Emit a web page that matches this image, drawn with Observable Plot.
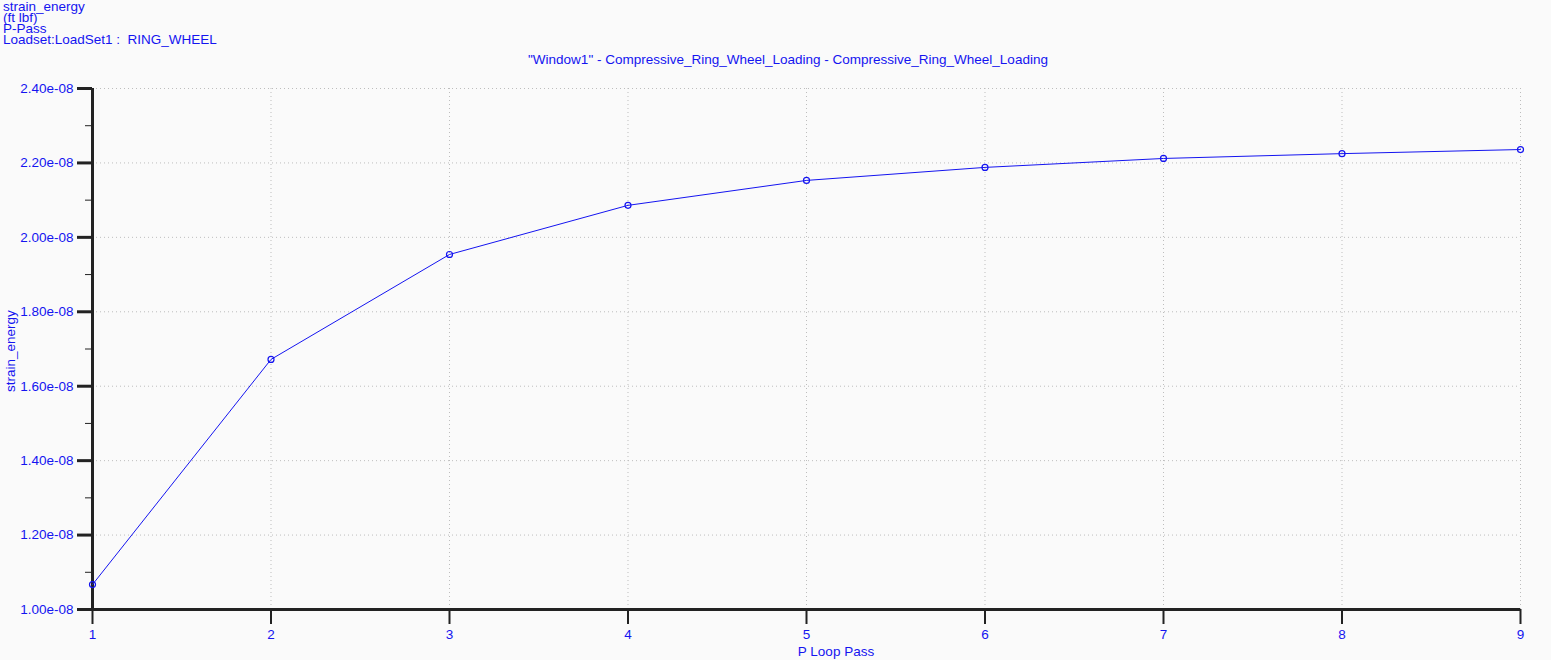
<!DOCTYPE html>
<html>
<head>
<meta charset="utf-8">
<script src="https://cdn.jsdelivr.net/npm/d3@7"></script>
<script src="https://cdn.jsdelivr.net/npm/@observablehq/plot@0.6"></script>
<style>
  html, body { margin: 0; padding: 0; background: #fafafa; }
  #wrap { position: relative; width: 1551px; height: 660px; overflow: hidden; font-family: "Liberation Sans", Arial, sans-serif; color: #1414f0; }
  .hdr { position: absolute; left: 3px; font-size: 13.5px; line-height: 11px; height: 11px; white-space: pre; }
  #title { position: absolute; left: 0; width: 1576px; top: 53px; text-align: center; font-size: 13.5px; line-height: 13px; }
  #xlab { position: absolute; left: 0; width: 1672px; top: 645px; text-align: center; font-size: 13.5px; line-height: 13px; }
</style>
</head>
<body>
<div id="wrap">
  <div id="chart"></div>
  <div class="hdr" style="top:1px">strain_energy</div>
  <div class="hdr" style="top:12px">(ft lbf)</div>
  <div class="hdr" style="top:23px">P-Pass</div>
  <div class="hdr" style="top:34px">Loadset:LoadSet1 :  RING_WHEEL</div>
  <div id="title">"Window1" - Compressive_Ring_Wheel_Loading - Compressive_Ring_Wheel_Loading</div>
  <div id="xlab">P Loop Pass</div>
</div>
<script>
const passes = [1, 2, 3, 4, 5, 6, 7, 8, 9];
const strainEnergy = [1.067e-8, 1.672e-8, 1.954e-8, 2.086e-8, 2.153e-8, 2.188e-8, 2.212e-8, 2.225e-8, 2.236e-8];
const yMajorTicks = [1.0e-8, 1.2e-8, 1.4e-8, 1.6e-8, 1.8e-8, 2.0e-8, 2.2e-8, 2.4e-8];
const yMinorTicks = [1.1e-8, 1.3e-8, 1.5e-8, 1.7e-8, 1.9e-8, 2.1e-8, 2.3e-8];
const xTicks = [1, 2, 3, 4, 5, 6, 7, 8, 9];

const data = passes.map((p, i) => ({pass: p, value: strainEnergy[i]}));
const blue = "#1414f0";
const axisColor = "#222";
const fmt = d => d3.format(".2e")(d).replace(/e-(\d)$/, "e-0$1");

const plot = Plot.plot({
  width: 1551,
  height: 660,
  marginLeft: 92,
  marginRight: 31,
  marginTop: 88,
  marginBottom: 51,
  style: {background: "transparent", fontFamily: "Liberation Sans, Arial, sans-serif", fontSize: "13.5px", overflow: "visible"},
  x: {domain: [1, 9]},
  y: {domain: [1.0e-8, 2.4e-8]},
  marks: [
    Plot.gridY(yMajorTicks.slice(1), {stroke: "#bdbdbd", strokeOpacity: 1, strokeDasharray: "1,3"}),
    Plot.gridX(xTicks.slice(1), {stroke: "#bdbdbd", strokeOpacity: 1, strokeDasharray: "1,3"}),
    Plot.axisY({ticks: yMinorTicks, tickSize: 7, tickFormat: null, stroke: axisColor, text: null, label: null}),
    Plot.axisY({ticks: yMajorTicks, tickSize: 15, tickPadding: 4, tickFormat: fmt, stroke: axisColor, strokeWidth: 3, fill: blue, label: null}),
    Plot.axisX({ticks: xTicks, tickSize: 15, tickPadding: 5, tickFormat: d => String(d), stroke: axisColor, strokeWidth: 2, fill: blue, label: null}),
    Plot.ruleX([1], {stroke: axisColor, strokeWidth: 3}),
    Plot.ruleY([1.0e-8], {stroke: axisColor, strokeWidth: 3}),
    Plot.line(data, {x: "pass", y: "value", stroke: blue, strokeWidth: 1}),
    Plot.dot(data, {x: "pass", y: "value", stroke: blue, fill: "none", r: 3, strokeWidth: 1.2})
  ]
});
document.getElementById("chart").appendChild(plot);

const yl = document.createElement("div");
yl.textContent = "strain_energy";
yl.style.cssText = "position:absolute;left:4px;top:392px;font-size:13.5px;line-height:13px;transform:rotate(-90deg);transform-origin:0 0;white-space:nowrap;";
document.getElementById("wrap").appendChild(yl);
</script>
</body>
</html>
